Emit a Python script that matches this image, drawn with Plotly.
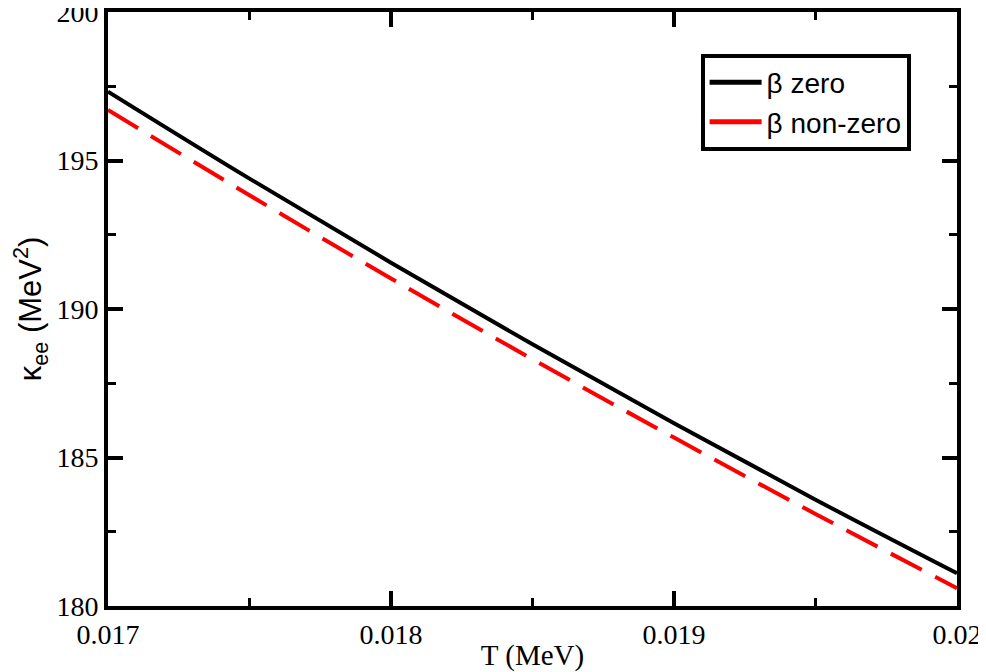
import plotly.graph_objects as go

T = [0.017, 0.0175, 0.018, 0.0185, 0.019, 0.0195, 0.020]
kappa_beta_zero = [197.32, 194.39, 191.56, 188.81, 186.15, 183.58, 181.10]
kappa_beta_nonzero = [196.70, 193.83, 191.03, 188.31, 185.67, 183.10, 180.60]
series_names = ["β zero", "β non-zero"]
x_ticks = [0.017, 0.018, 0.019, 0.02]
x_tick_labels = ["0.017", "0.018", "0.019", "0.02"]
y_ticks = [180, 185, 190, 195, 200]

fig = go.Figure()
fig.add_trace(go.Scatter(x=T, y=kappa_beta_zero, mode="lines", line=dict(color="black", width=4, shape="spline"),
                         showlegend=False))
fig.add_trace(go.Scatter(x=T, y=kappa_beta_nonzero, mode="lines",
                         line=dict(color="#ff0000", width=4, dash="35px,15px", shape="spline"),
                         showlegend=False))
# legend entries (solid samples as in the original legend)
fig.add_trace(go.Scatter(x=[None], y=[None], mode="lines", line=dict(color="black", width=5), name=series_names[0]))
fig.add_trace(go.Scatter(x=[None], y=[None], mode="lines", line=dict(color="#ff0000", width=5), name=series_names[1]))

axis_common = dict(showline=True, linewidth=4, linecolor="black", mirror="allticks", ticks="inside",
                   ticklen=15, tickwidth=4, tickcolor="black", showgrid=False, zeroline=False, automargin=False,
                   ticklabeloverflow="allow",
                   tickfont=dict(family="Liberation Serif", size=28, color="black"))

fig.update_xaxes(range=[0.017, 0.02], tickvals=x_ticks, ticktext=x_tick_labels,
                 minor=dict(ticks="inside", ticklen=8, tickwidth=3, tickcolor="black", dtick=0.0005, showgrid=False),
                 title=dict(text="T (MeV)", font=dict(family="Liberation Serif", size=29, color="black"), standoff=8),
                 **axis_common)
fig.update_yaxes(range=[180, 200], tickvals=y_ticks,
                 minor=dict(ticks="inside", ticklen=8, tickwidth=3, tickcolor="black", dtick=2.5, showgrid=False),
                 title=dict(text="κ<sub>ee</sub> (MeV<sup>2</sup>)", font=dict(family="Liberation Sans", size=31, color="black"), standoff=14),
                 **axis_common)

# the page body adds an 8px margin, so the figure is 8px smaller and offset accordingly
fig.update_layout(width=978, height=664, margin=dict(l=100, r=29, t=4, b=66),
                  plot_bgcolor="white", paper_bgcolor="white",
                  legend=dict(x=0.698, y=0.93, xanchor="left", yanchor="top", bordercolor="black", borderwidth=4,
                              bgcolor="white", font=dict(family="Liberation Sans", size=28, color="black"),
                              tracegroupgap=0, itemwidth=52))

fig.write_html("out.html")
